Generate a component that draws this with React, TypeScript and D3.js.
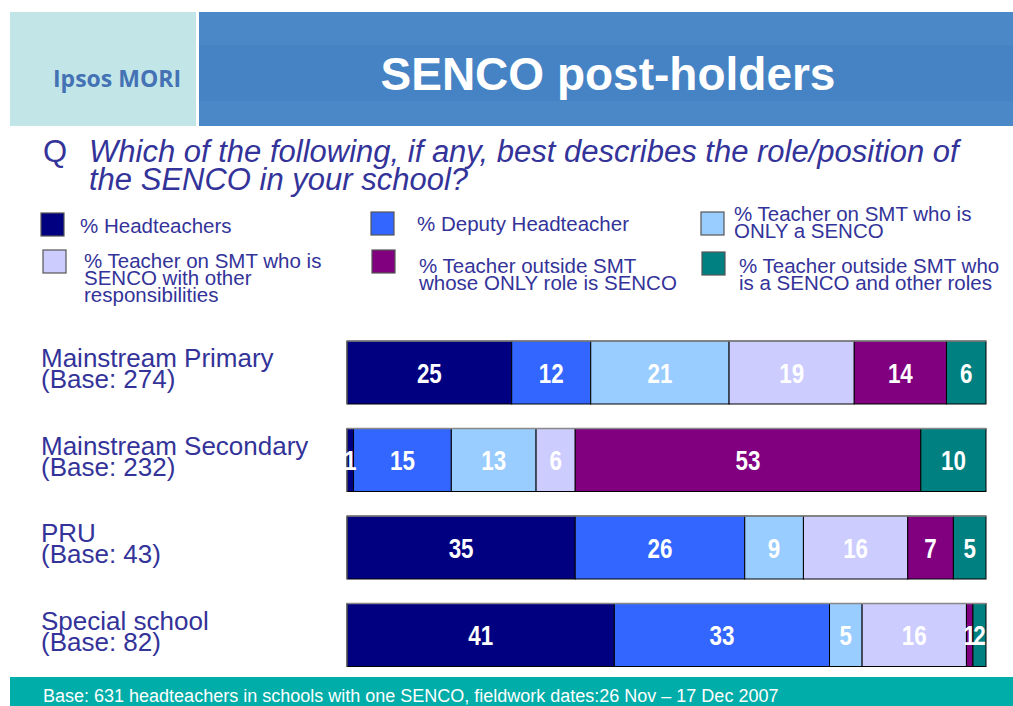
import React from "react";
import * as d3 from "d3";

const categories = ["Mainstream Primary", "Mainstream Secondary", "PRU", "Special school"];
const bases = ["(Base: 274)", "(Base: 232)", "(Base: 43)", "(Base: 82)"];
const seriesNames = [
  "% Headteachers",
  "% Deputy Headteacher",
  "% Teacher on SMT who is ONLY a SENCO",
  "% Teacher on SMT who is SENCO with other responsibilities",
  "% Teacher outside SMT whose ONLY role is SENCO",
  "% Teacher outside SMT who is a SENCO and other roles",
];
const headteachers = [25, 1, 35, 41];
const deputy = [12, 15, 26, 33];
const smtOnly = [21, 13, 9, 5];
const smtOther = [19, 6, 16, 16];
const outsideOnly = [14, 53, 7, 1];
const outsideOther = [6, 10, 5, 2];
const series = [headteachers, deputy, smtOnly, smtOther, outsideOnly, outsideOther];
const colors = ["#000080", "#3366FF", "#99CCFF", "#CCCCFF", "#800080", "#008080"];

const TEXT = "#333399";
const FONT = "'Liberation Sans', Arial, sans-serif";

const legendItems = [
  { sx: 41, sy: 213, tx: 80, lines: ["% Headteachers"], by: 233 },
  { sx: 371, sy: 212, tx: 417, lines: ["% Deputy Headteacher"], by: 231 },
  { sx: 701, sy: 212, tx: 734, lines: ["% Teacher on SMT who is", "ONLY a SENCO"], by: 221 },
  { sx: 43, sy: 250, tx: 84, lines: ["% Teacher on SMT who is", "SENCO with other", "responsibilities"], by: 268 },
  { sx: 372, sy: 250, tx: 419, lines: ["% Teacher outside SMT", "whose ONLY role is SENCO"], by: 273 },
  { sx: 702, sy: 252, tx: 739, lines: ["% Teacher outside SMT who", "is a SENCO and other roles"], by: 273 },
];

export default function App() {
  const W = 1013, H = 706;
  const x = d3.scaleLinear().domain([0, 1]).range([347, 986]);
  const y = d3.scaleBand().domain(categories).range([341, 666.5]).paddingInner(0.28).paddingOuter(0);

  const rows = categories.map((c, i) => {
    const vals = series.map((s) => s[i]);
    const total = d3.sum(vals);
    let acc = 0;
    const segs = vals.map((v, k) => {
      const x0 = acc / total;
      acc += v;
      return { v, k, x0, x1: acc / total };
    });
    return { c, i, segs };
  });

  return (
    <svg width={W} height={H} style={{ position: "absolute", left: 0, top: 0, display: "block" }} fontFamily={FONT}>
      <rect x={0} y={0} width={W} height={H} fill="#ffffff" />
      {/* header */}
      <rect x={10} y={12} width={186} height={114} fill="#C2E6E8" />
      <rect x={199} y={12} width={814} height={114} fill="#4A88C8" />
      <rect x={199} y={45} width={814} height={56} fill="#4683C4" />
      <text x={117} y={87} textAnchor="middle" fontSize={23} fontWeight="bold" fill="#4472B4" fontFamily="'Open Sans', 'Liberation Sans', sans-serif">Ipsos MORI</text>
      <text x={608} y={90} textAnchor="middle" fontSize={46} fontWeight="bold" fill="#ffffff">SENCO post-holders</text>
      {/* question */}
      <text x={43} y={162} fontSize={31} fill={TEXT}>Q</text>
      <text x={89} y={162} fontSize={31} fontStyle="italic" fill={TEXT}>Which of the following, if any, best describes the role/position of</text>
      <text x={89} y={190} fontSize={31} fontStyle="italic" fill={TEXT}>the SENCO in your school?</text>
      {/* legend */}
      {legendItems.map((li, k) => (
        <g key={k}>
          <rect x={li.sx} y={li.sy} width={23} height={23} fill={colors[k]} stroke="#555" strokeWidth={1.2} />
          {li.lines.map((ln, j) => (
            <text key={j} x={li.tx} y={li.by + j * 17} fontSize={20.5} fill={TEXT}>{ln}</text>
          ))}
        </g>
      ))}
      {/* category labels */}
      {rows.map((r) => (
        <g key={r.c}>
          <text x={41} y={(y(r.c) as number) + 26} fontSize={26} fill={TEXT}>{r.c}</text>
          <text x={41} y={(y(r.c) as number) + 47} fontSize={26} fill={TEXT}>{bases[r.i]}</text>
        </g>
      ))}
      {/* bars */}
      {rows.map((r) => {
        const y0 = y(r.c) as number;
        const bh = y.bandwidth();
        return (
          <g key={r.c}>
            {r.segs.map((s) => (
              <rect key={s.k} x={x(s.x0)} y={y0} width={x(s.x1) - x(s.x0)} height={bh} fill={colors[s.k]} stroke="#000" strokeWidth={1} />
            ))}
            <line x1={x(0)} x2={x(1)} y1={y0} y2={y0} stroke="#888" strokeWidth={1.5} />
            <line x1={x(0)} x2={x(0)} y1={y0} y2={y0 + bh} stroke="#666" strokeWidth={1.2} />
            {r.segs.map((s) => {
              const cx = (x(s.x0) + x(s.x1)) / 2;
              return (
                <text key={"t" + s.k} transform={`translate(${cx},${y0 + bh / 2 + 10}) scale(0.8,1)`} textAnchor="middle" fontSize={28} fontWeight="bold" fill="#ffffff">{s.v}</text>
              );
            })}
          </g>
        );
      })}
      {/* footer */}
      <rect x={10} y={677} width={1003} height={29} fill="#00ADA8" />
      <text x={43} y={702} fontSize={18} fill="#ffffff">Base: 631 headteachers in schools with one SENCO, fieldwork dates:26 Nov – 17 Dec 2007</text>
    </svg>
  );
}
